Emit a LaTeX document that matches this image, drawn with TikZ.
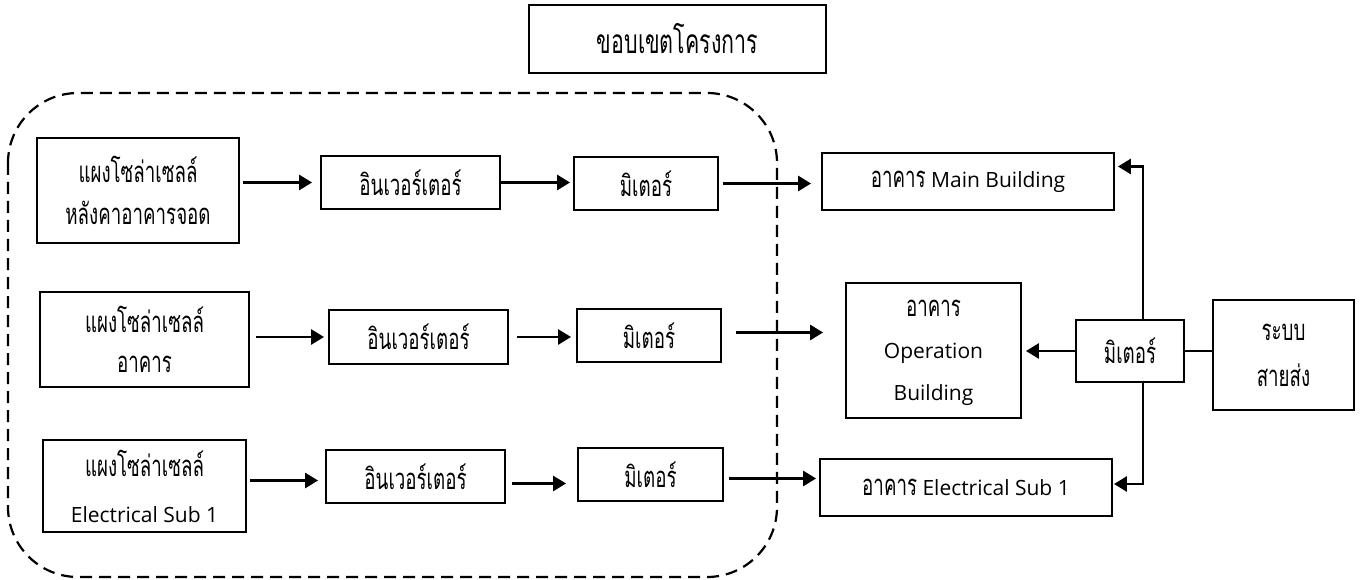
\documentclass[tikz,border=0pt]{standalone}
\usepackage{fontspec}
\setmainfont{Open Sans}
\newfontfamily\thaifont[Script=Thai, FakeStretch=0.64, Scale=1.393]{Loma}
\usetikzlibrary{arrows.meta,calc}
\begin{document}
\begin{tikzpicture}[x=1pt,y=-1pt,
  box/.style={draw, line width=1.9pt, inner sep=0pt, align=center,
    font=\fontsize{21}{42}\selectfont},
  conn/.style={line width=2.8pt},
  arr/.style={conn, -{Triangle[length=13pt,width=15pt]}},
  scopeline/.style={line width=2.2pt, dash pattern=on 12pt off 7pt, rounded corners=70pt}]
\useasboundingbox (0,0) rectangle (1360,580);

% project scope (dashed)
\draw[scopeline] (8,93) rectangle (777,577);

% title
\node[box, minimum width=297pt, minimum height=68pt, font=\fontsize{24}{42}\selectfont] (title) at (677.5,39) {\thaifont ขอบเขตโครงการ};

% row 1
\node[box, minimum width=202pt, minimum height=105pt] (solar1) at (138,190.5) {\thaifont แผงโซล่าเซลล์\\\thaifont หลังคาอาคารจอด};
\node[box, minimum width=179pt, minimum height=53pt] (inv1) at (410.5,182.5) {\thaifont อินเวอร์เตอร์};
\node[box, minimum width=144pt, minimum height=53pt] (met1) at (646,183.5) {\thaifont มิเตอร์};
\node[box, minimum width=292pt, minimum height=57pt] (main) at (968,181.5) {{\thaifont อาคาร} Main Building};

% row 2
\node[box, minimum width=209pt, minimum height=95pt, font=\fontsize{21}{40}\selectfont] (solar2) at (144.5,339.5) {\thaifont แผงโซล่าเซลล์\\\thaifont อาคาร};
\node[box, minimum width=179pt, minimum height=54pt] (inv2) at (418.5,337) {\thaifont อินเวอร์เตอร์};
\node[box, minimum width=144pt, minimum height=53pt] (met2) at (649,335.5) {\thaifont มิเตอร์};
\node[box, minimum width=175pt, minimum height=135pt, text depth=0pt] (op) at (933.5,350.5) {\thaifont อาคาร\\Operation\\Building};
\node[box, minimum width=108pt, minimum height=62pt] (metR) at (1130,351) {\thaifont มิเตอร์};
\node[box, minimum width=141pt, minimum height=110pt, font=\fontsize{21}{46}\selectfont] (grid) at (1283.5,355) {\thaifont ระบบ\\\thaifont สายส่ง};

% row 3
\node[box, minimum width=203pt, minimum height=92pt, font=\fontsize{21}{46}\selectfont] (solar3) at (144.5,486) {\thaifont แผงโซล่าเซลล์\\Electrical Sub 1};
\node[box, minimum width=179pt, minimum height=53pt] (inv3) at (415.5,476.5) {\thaifont อินเวอร์เตอร์};
\node[box, minimum width=145pt, minimum height=53pt] (met3) at (650.5,474.5) {\thaifont มิเตอร์};
\node[box, minimum width=292pt, minimum height=57pt] (esub) at (966,487.5) {{\thaifont อาคาร} Electrical Sub 1};

% row 1 connectors
\draw[arr, shorten <=3pt, shorten >=8pt] (solar1.east |- inv1.west) -- (inv1.west);
\draw[arr, shorten >=3pt] (inv1.east) -- (inv1.east -| met1.west);
\draw[arr, shorten <=4pt, shorten >=10pt] (met1.east) -- (met1.east -| main.west);

% row 2 connectors
\draw[arr, shorten <=6pt, shorten >=4pt] (solar2.east |- inv2.west) -- (inv2.west);
\draw[arr, shorten <=8pt, shorten >=5pt] (inv2.east) -- (inv2.east -| met2.west);
\draw[arr, shorten <=14pt, shorten >=22pt] ([yshift=3pt]met2.east) -- ([yshift=3pt]met2.east -| op.west);

% row 3 connectors
\draw[arr, shorten <=3pt, shorten >=7pt] ([yshift=-4pt]solar3.east |- inv3.west) -- ([yshift=-4pt]inv3.west);
\draw[arr, shorten <=6pt, shorten >=11pt] ([yshift=-7pt]inv3.east) -- ([yshift=-7pt]inv3.east -| met3.west);
\draw[arr, shorten <=5pt, shorten >=3pt] ([yshift=-4pt]met3.east) -- ([yshift=-4pt]met3.east -| esub.west);

% right side
\draw[arr, shorten >=4pt] (metR.west) -- (metR.west -| op.east);
\draw[conn] (grid.west |- metR.east) -- (metR.east);
\draw[arr, shorten >=3pt] ([xshift=13pt]metR.north) |- ([yshift=15pt]main.east);
\draw[arr, shorten >=1pt] ([xshift=13pt]metR.south) |- ([yshift=3.5pt]esub.east);
\end{tikzpicture}
\end{document}
